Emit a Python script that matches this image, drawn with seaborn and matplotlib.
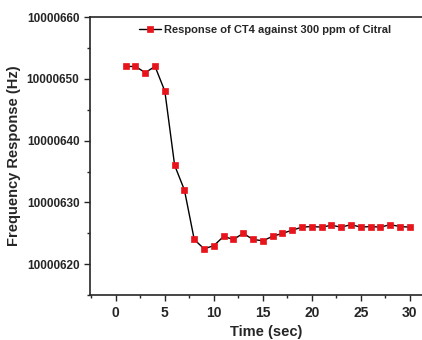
import pandas as pd
import matplotlib.pyplot as plt
import matplotlib.ticker as mticker
import seaborn as sns

# Time points (sec) and sensor frequency response (Hz)
time_sec = list(range(1, 31))
freq_hz = [
    10000652, 10000652, 10000651, 10000652, 10000648,
    10000636, 10000632, 10000624, 10000622.5, 10000623,
    10000624.5, 10000624, 10000625, 10000624, 10000623.8,
    10000624.5, 10000625, 10000625.5, 10000626, 10000626.1,
    10000626, 10000626.3, 10000626, 10000626.4, 10000626,
    10000626.1, 10000626, 10000626.4, 10000626.1, 10000626,
]
series_label = 'Response of CT4 against 300 ppm of Citral'

df = pd.DataFrame({'Time': time_sec, 'Freq': freq_hz})

sns.set_style('ticks')
plt.rcParams['font.family'] = ['Liberation Sans', 'DejaVu Sans']
plt.rcParams['font.weight'] = 'bold'

fig = plt.figure(figsize=(4.22, 3.40), dpi=100)
ax = fig.add_axes([0.213, 0.132, 0.837, 0.818])

sns.lineplot(
    data=df, x='Time', y='Freq', ax=ax,
    color='black', linewidth=1.0,
    marker='s', markersize=4.8, markerfacecolor='#e8141b',
    markeredgecolor='#e8141b', markeredgewidth=0.5, label=series_label
)

ax.set_xlim(-2.65, 33.4)
ax.set_ylim(10000615, 10000660)
ax.xaxis.set_major_locator(mticker.MultipleLocator(5))
ax.xaxis.set_minor_locator(mticker.MultipleLocator(2.5))
ax.yaxis.set_major_locator(mticker.MultipleLocator(10))
ax.yaxis.set_minor_locator(mticker.MultipleLocator(5))
ax.yaxis.set_major_formatter(mticker.FuncFormatter(lambda v, p: f'{v:.0f}'))

ax.tick_params(axis='both', which='major', direction='out', length=4, width=1)
ax.tick_params(axis='x', which='major', labelsize=10)
ax.tick_params(axis='y', which='major', labelsize=8.5)
ax.tick_params(axis='both', which='minor', direction='out', length=2, width=1)
for lbl in ax.get_xticklabels() + ax.get_yticklabels():
    lbl.set_fontweight('bold')
for s in ax.spines.values():
    s.set_linewidth(1.2)
ax.spines['right'].set_visible(False)

ax.set_xlabel('Time (sec)', fontsize=10.5, fontweight='bold')
ax.set_ylabel('Frequency Response (Hz)', fontsize=10.5, fontweight='bold')

leg = ax.legend(loc='upper left', bbox_to_anchor=(0.305, 0.955),
                bbox_transform=fig.transFigure, frameon=False,
                handlelength=2.0, handletextpad=0.3,
                prop={'size': 8, 'weight': 'bold'})

fig.savefig('out.png', dpi=100)
